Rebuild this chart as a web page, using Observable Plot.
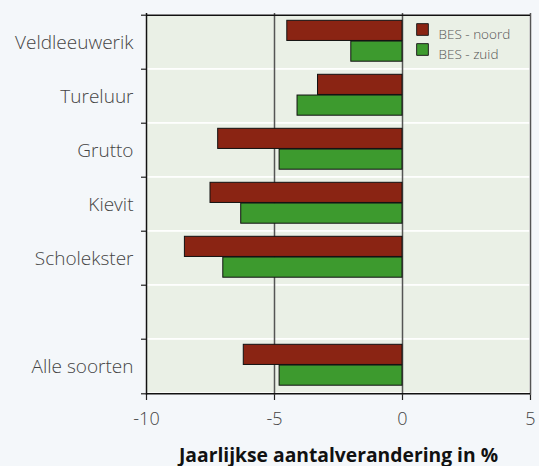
<!DOCTYPE html>
<html><head><meta charset="utf-8">
<script src="https://cdn.jsdelivr.net/npm/d3@7"></script>
<script src="https://cdn.jsdelivr.net/npm/@observablehq/plot@0.6"></script>
<style>
html,body{margin:0;padding:0;background:#f4f7fa;}
#chart svg{display:block;}
</style></head><body><div id="chart"></div>
<script>
const categories = ["Veldleeuwerik", "Tureluur", "Grutto", "Kievit", "Scholekster", "", "Alle soorten"];
const noord = [-4.5, -3.3, -7.2, -7.5, -8.5, null, -6.2];
const zuid = [-2.0, -4.1, -4.8, -6.3, -7.0, null, -4.8];
const seriesNames = ["BES - noord", "BES - zuid"];
const seriesColors = ["#8a2413", "#3d9a2e"];
const xTicks = [-10, -5, 0, 5];
const xDomain = [-10, 5];
const xLabel = "Jaarlijkse aantalverandering in %";

const rows = [];
categories.forEach((c, i) => {
  if (noord[i] != null) rows.push({cat: c, series: seriesNames[0], value: noord[i]});
  if (zuid[i] != null) rows.push({cat: c, series: seriesNames[1], value: zuid[i]});
});

const W = 539, H = 466, mt = 13, mb = 71, ml = 146, mr = 9;
const band = (H - mt - mb) / categories.length;
const pad = band * 0.097, barH = band * 0.38;
const font = "'Open Sans', 'Noto Sans', sans-serif";
const last = categories[categories.length - 1];

const legendMarks = seriesNames.flatMap((name, i) => [
  Plot.dot([name], {frameAnchor: "top-left", dx: 276, dy: 16 + i * 20, symbol: "square", r: 6.6,
    fill: seriesColors[i], stroke: "#222", strokeWidth: 1}),
  Plot.text([name], {frameAnchor: "top-left", dx: 292, dy: 16 + i * 20, textAnchor: "start",
    fontSize: 13.5, fill: "#555", fontWeight: 300})
]);

const chart = Plot.plot({
  width: W, height: H, marginTop: mt, marginBottom: mb, marginLeft: ml, marginRight: mr,
  style: {background: "transparent", fontFamily: font, color: "#444"},
  x: {domain: xDomain, label: null},
  y: {domain: categories, padding: 0, label: null},
  color: {domain: seriesNames, range: seriesColors},
  marks: [
    Plot.barX(categories, {y: d => d, x1: xDomain[0], x2: xDomain[1], fill: "#eaf0e6", stroke: "#ffffff", strokeWidth: 1.5}),
    Plot.ruleX([-5, 0], {stroke: "#555", strokeWidth: 1.5}),
    Plot.ruleX([xDomain[1]], {stroke: "#555", strokeWidth: 1.5}),
    Plot.barX(rows.filter(d => d.series === seriesNames[0]), {y: "cat", x1: 0, x2: "value", fill: "series",
      stroke: "#111", strokeWidth: 1, insetTop: pad, insetBottom: band - pad - barH}),
    Plot.barX(rows.filter(d => d.series === seriesNames[1]), {y: "cat", x1: 0, x2: "value", fill: "series",
      stroke: "#111", strokeWidth: 1, insetTop: pad + barH, insetBottom: band - pad - 2 * barH}),
    Plot.ruleY([categories[0]], {y: d => d, x1: xDomain[0], x2: xDomain[1], dy: -band / 2, stroke: "#111", strokeWidth: 1.5}),
    Plot.ruleY([last], {y: d => d, x1: xDomain[0], x2: xDomain[1], dy: band / 2, stroke: "#111", strokeWidth: 1.5}),
    Plot.ruleX([xDomain[0]], {stroke: "#111", strokeWidth: 1.5}),
    Plot.axisY({ticks: categories, tickSize: 5, text: null, label: null, dy: -band / 2, stroke: "#222", strokeWidth: 1.2}),
    Plot.axisY({ticks: [last], tickSize: 5, text: null, label: null, dy: band / 2, stroke: "#222", strokeWidth: 1.2}),
    Plot.axisY({tickSize: 0, tickPadding: 13, fontSize: 19, fontWeight: 300, fill: "#444", label: null}),
    Plot.axisX({ticks: xTicks, tickSize: 5, tickPadding: 12, fontSize: 18, fontWeight: 300, fill: "#444",
      stroke: "#222", strokeWidth: 1.2, tickFormat: d => String(d), label: null}),
    Plot.text([xLabel], {frameAnchor: "bottom", dy: 66, fontSize: 19.3, fontWeight: "bold", fill: "#111"}),
    ...legendMarks
  ]
});
document.getElementById("chart").appendChild(chart);
</script></body></html>
